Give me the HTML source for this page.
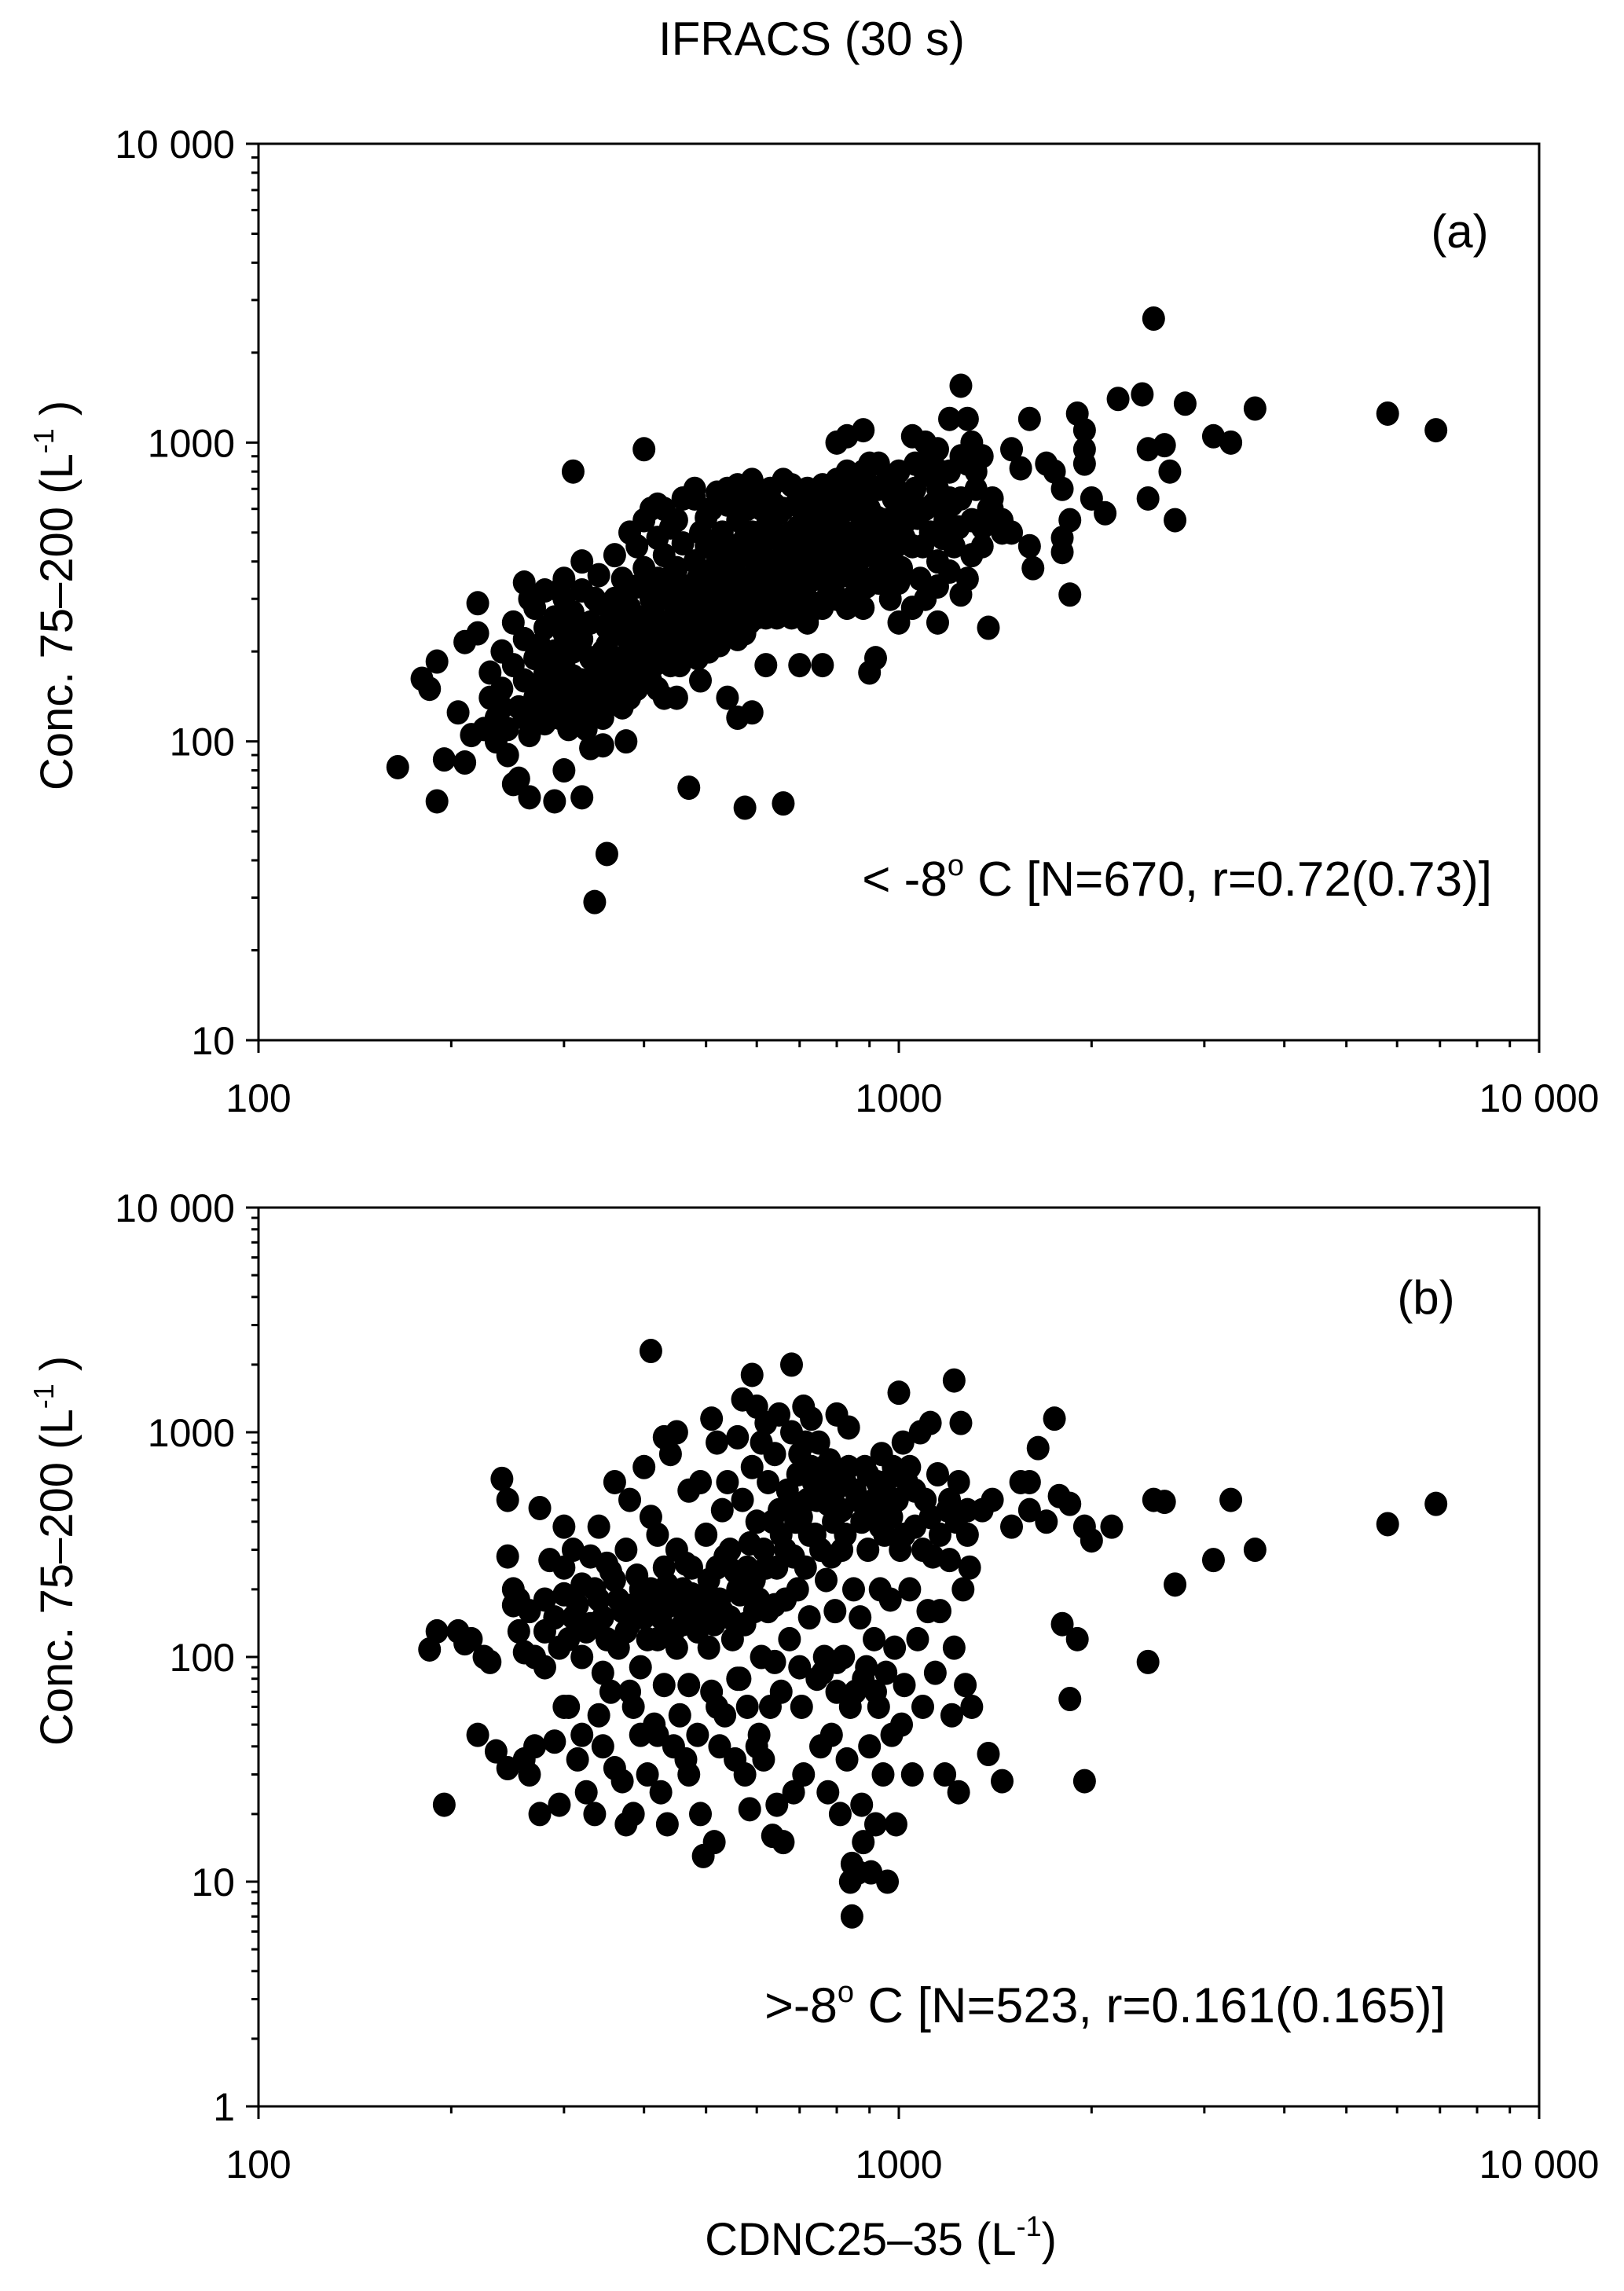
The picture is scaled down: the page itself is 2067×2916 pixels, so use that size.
<!DOCTYPE html>
<html><head><meta charset="utf-8"><style>
html,body{margin:0;padding:0;background:#fff;}
svg{display:block;font-family:"Liberation Sans",Arial,sans-serif;}
</style></head><body>
<svg id="chart" width="2067" height="2916" viewBox="0 0 2067 2916" xmlns="http://www.w3.org/2000/svg">
<rect width="2067" height="2916" fill="#fff"/>
<text x="1033" y="70" font-size="60" text-anchor="middle">IFRACS (30 s)</text>
<g id="panelA"></g>
<g id="panelB"></g>
<text x="1121" y="2870" font-size="58" text-anchor="middle">CDNC25–35 (L<tspan font-size="36" dy="-24">-1</tspan><tspan dy="24">)</tspan></text>
<text transform="translate(92,758) rotate(-90)" font-size="58" text-anchor="middle">Conc.  75–200  (L<tspan font-size="36" dy="-24">-1</tspan><tspan dy="24"> )</tspan></text>
<text transform="translate(92,1974) rotate(-90)" font-size="58" text-anchor="middle">Conc.  75–200  (L<tspan font-size="36" dy="-24">-1</tspan><tspan dy="24"> )</tspan></text>
<text x="1858" y="315" font-size="60" text-anchor="middle">(a)</text>
<text x="1899" y="1140" font-size="62" text-anchor="end">&lt; -8<tspan font-size="38" dy="-26">o</tspan><tspan dy="26"> C [N=670, r=0.72(0.73)]</tspan></text>
<text x="1815" y="1672" font-size="60" text-anchor="middle">(b)</text>
<text x="1840" y="2574" font-size="63" text-anchor="end">&gt;-8<tspan font-size="38" dy="-26">o</tspan><tspan dy="26"> C [N=523, r=0.161(0.165)]</tspan></text>
</svg>
<script>
const xTickLabels = ["100", "1000", "10 000"];
const yTickLabelsA = ["10", "100", "1000", "10 000"];
const yTickLabelsB = ["1", "10", "100", "1000", "10 000"];
const pointsA = [
[165,82],[190,63],[195,87],[185,150],[180,162],[190,185],[205,125],[210,85],[215,105],[210,215],[220,290],[220,230],[225,110],[230,170],[235,100],[240,130],[245,90],[250,72],[255,75],[265,65],[290,63],[300,80],[310,800],[320,65],[330,95],[345,97],[350,42],[335,29],[375,100],[400,950],[410,600],[420,620],[430,140],[450,140],[470,70],[490,160],[540,140],[560,120],[575,60],[590,125],[620,180],[660,62],[700,180],[760,180],[800,1000],[830,1050],[880,1100],[900,170],[920,190],[1000,250],[1050,1050],[1100,1000],[1150,950],[1200,1200],[1250,1550],[1280,1200],[1300,1000],[1350,900],[1380,240],[1400,600],[1450,500],[1500,950],[1550,820],[1600,1200],[1600,450],[1620,380],[1700,850],[1750,800],[1800,700],[1800,480],[1800,430],[1850,550],[1850,310],[1900,1250],[1950,1100],[1950,950],[1950,850],[2000,650],[2100,580],[2200,1400],[2400,1450],[2450,950],[2450,650],[2500,2600],[2600,980],[2650,800],[2700,550],[2800,1350],[3100,1050],[3300,1000],[3600,1300],[5800,1250],[6900,1100],
[240,150],[240,200],[250,180],[250,250],[260,160],[260,220],[260,340],[270,140],[270,190],[270,280],[280,170],[280,240],[280,320],[290,130],[290,200],[290,260],[300,150],[300,180],[300,230],[300,300],[300,350],[310,140],[310,200],[310,270],[320,160],[320,220],[320,320],[320,400],[330,130],[330,190],[330,250],[340,170],[340,290],[340,360],[350,150],[350,210],[350,240],[360,190],[360,300],[360,420],[370,170],[370,250],[370,350],[380,140],[380,210],[380,280],[390,180],[390,330],[390,450],[400,230],[400,260],[400,380],[410,160],[410,300],[420,200],[420,350],[420,480],[430,250],[430,420],[440,180],[440,300],[450,220],[450,380],[450,550],[460,280],[460,460],[470,200],[470,330],[480,250],[480,400],[480,650],[490,300],[490,500],[500,220],[500,360],[500,450],[510,280],[510,600],[520,330],[520,420],[530,250],[530,500],[540,380],[540,700],[550,300],[550,450],[560,220],[560,550],[570,350],[570,650],[580,280],[580,420],[590,500],[590,750],[600,320],[600,380],[610,450],[610,600],[620,260],[620,520],[630,400],[630,700],[640,300],[640,480],[650,350],[650,580],[660,420],[660,750],[670,280],[680,500],[690,380],[690,620],[700,330],[700,450],[710,550],[720,300],[720,700],[730,420],[740,500],[740,350],[750,600],[760,280],[760,450],[770,380],[780,520],[780,700],[790,320],[800,430],[800,600],[820,360],[820,500],[830,800],[840,300],[840,450],[850,600],[860,380],[870,520],[870,700],[880,280],[890,420],[900,600],[900,850],[910,350],[920,480],[930,700],[950,400],[950,550],[970,300],[980,650],[990,450],[1000,800],[1010,380],[1030,550],[1050,450],[1060,700],[1080,350],[1100,600],[1120,500],[1150,400],[1150,700],[1180,550],[1200,800],[1220,450],[1250,650],[1280,350],[1300,550],[1320,700],[1350,450],[1380,600],
[265,300],[275,210],[285,180],[295,320],[315,240],[335,300],[345,200],[355,270],[365,230],[375,310],[385,250],[395,210],[405,340],[415,260],[425,300],[435,350],[445,260],[455,320],[465,240],[475,290],[485,350],[495,260],[505,310],[515,380],[525,290],[535,330],[545,260],[555,400],[565,300],[575,480],[585,350],[595,280],[605,420],[615,350],[625,330],[635,550],[645,400],[655,300],[665,480],[675,400],[685,330],[695,520],[705,400],[715,350],[725,600],[735,470],[745,400],[755,520],[765,350],[775,460],[785,600],[795,380],[810,520],[825,420],[835,600],[845,380],[855,500],[865,450],[885,550],[895,480],[905,420],[925,560],[940,450],[960,500],[985,550],[1020,480],[1040,620],[1070,560],[1090,450],[1130,620],[1170,480],[1210,620],[1240,520],
[230,140],[235,120],[245,110],[255,130],[260,120],[265,105],[270,125],[275,150],[280,115],[285,140],[290,160],[295,120],[300,130],[305,110],[310,165],[315,125],[320,140],[325,110],[330,160],[335,145],[340,130],[345,120],[350,175],[355,140],[360,160],[365,150],[370,130],[375,190],[380,160],[385,210],[390,150],[395,260],[400,170],[405,200],[410,230],[415,180],[420,150],[425,220],[430,190],[440,240],[445,210],[455,180],[465,200],[475,220],[485,190],[495,240],[505,200],[515,230],[525,210],[535,280],[545,230],[555,250],[565,270],[575,230],[585,250],[600,260],[615,280],[630,270],[645,260],[660,280],[680,260],[700,280],[720,250],[745,280],[770,300],[800,300],[830,280],[860,320],[890,330],[930,340],[960,360],[1000,340],
[380,500],[400,550],[430,600],[440,520],[460,650],[480,700],[500,560],[520,680],[540,620],[560,720],[580,600],[600,700],[620,680],[640,620],[660,600],[680,720],[700,650],[720,620],[740,680],[760,720],[780,650],[800,750],[820,680],[850,750],[880,800],[900,720],[930,850],[960,750],[990,700],[1020,650],[1060,850],[1100,780],[1130,900],[1160,800],[1200,650],[1250,900],[1280,850],[1320,800],[1100,300],[1150,330],[1200,370],[1250,310],[1300,420],[1350,520],[1400,650],[1450,550],[1500,500],[1150,250],[1050,280]
];
const pointsB = [
[185,108],[190,130],[195,22],[205,130],[210,115],[215,120],[220,45],[225,100],[230,95],[235,38],[240,620],[245,500],[245,280],[245,32],[250,170],[250,200],[255,130],[260,105],[260,35],[265,30],[270,100],[270,40],[275,460],[275,20],[280,180],[280,90],[285,270],[290,150],[290,42],[295,22],[300,250],[300,380],[305,120],[305,60],[310,300],[310,150],[315,35],[320,210],[320,100],[320,45],[325,25],[330,280],[330,140],[335,20],[340,380],[340,180],[345,85],[345,40],[350,260],[350,120],[355,70],[360,600],[360,220],[360,32],[365,110],[370,160],[370,28],[375,300],[375,18],[380,500],[380,140],[385,60],[385,20],[390,230],[395,90],[395,45],[400,700],[400,150],[405,30],[410,2300],[410,420],[410,200],[415,50],[420,350],[420,120],[425,25],[430,950],[430,250],[430,75],[435,18],[440,800],[440,170],[445,40],[450,1000],[450,300],[450,110],[455,55],[460,200],[460,140],[465,35],[470,550],[470,75],[475,250],[480,150],[485,45],[490,600],[490,20],[495,13],[500,350],[500,180],[505,110],[510,1150],[510,70],[515,15],[520,900],[520,250],[525,40],[530,450],[530,160],[535,55],[540,600],[545,300],[550,120],[555,35],[560,950],[560,200],[565,80],[570,1400],[570,500],[575,30],[580,250],[580,60],[585,21],[590,1800],[590,700],[595,160],[600,1300],[600,400],[605,45],[610,900],[610,100],[615,35],[620,1100],[620,250],[625,600],[630,60],[635,16],[640,800],[640,170],[645,22],[650,1200],[650,450],[655,70],[660,15],[665,300],[670,550],[675,120],[680,2000],[680,1000],[685,25],[690,400],[695,200],[700,800],[705,60],[710,1300],[710,30],[715,250],[720,500],[725,150],[730,1150],[730,700],[740,350],[745,80],[750,900],[755,40],[760,600],[765,100],[770,220],[775,25],[780,750],[785,45],[790,400],[795,160],[800,1200],[800,70],[810,20],[815,300],[820,100],[825,600],[830,35],[835,1050],[840,10],[845,7],[845,12],[850,200],[855,70],[860,500],[865,11],[870,150],[875,22],[880,15],[885,700],[890,90],[895,300],[900,40],[905,11],[910,450],[915,120],[920,18],[925,600],[930,60],[935,200],[940,800],[945,30],[950,350],[955,85],[960,10],[965,500],[970,180],[975,45],[980,700],[985,110],[990,18],[1000,1500],[1005,300],[1010,50],[1015,900],[1020,75],[1030,600],[1040,200],[1050,30],[1060,380],[1070,120],[1080,1000],[1090,60],[1100,500],[1110,160],[1120,1100],[1130,280],[1140,85],[1150,650],[1160,160],[1180,30],[1190,450],[1200,270],[1210,55],[1220,1700],[1220,110],[1230,400],[1240,25],[1250,1100],[1260,200],[1270,75],[1280,450],[1290,250],[1300,60],[1350,450],[1380,37],[1400,500],[1450,28],[1500,380],[1550,600],[1600,600],[1600,450],[1650,850],[1700,400],[1750,1150],[1780,520],[1800,140],[1850,480],[1850,65],[1900,120],[1950,380],[1950,28],[2000,330],[2150,380],[2450,95],[2500,500],[2600,490],[2700,210],[3100,270],[3300,500],[3600,300],[5800,390],[6900,480],
[255,180],[265,160],[280,130],[295,110],[300,190],[315,170],[325,130],[335,200],[345,150],[355,240],[365,180],[375,130],[385,170],[395,200],[405,120],[415,180],[425,150],[435,210],[445,130],[455,170],[465,260],[475,190],[485,130],[495,160],[505,220],[515,140],[525,180],[535,280],[545,150],[555,240],[565,190],[575,140],[585,320],[595,220],[605,180],[615,300],[625,160],[635,400],[645,250],[655,350],[665,180],[675,500],[685,280],[695,650],[705,420],[715,900],[725,350],[735,600],[745,500],[755,300],[765,700],[775,480],[785,280],[795,550],[805,650],[815,450],[825,350],[835,700],[855,550],[875,400],[895,650],[915,500],[935,380],[955,600],[975,420],[995,500],[1020,350],[1040,700],[1060,550],[1090,300],[1120,420],[1160,350],[1200,500],[1240,600],[1280,350],[520,60],[560,80],[600,40],[640,95],[700,90],[760,85],[800,95],[840,60],[880,80],[920,70],[300,60],[340,55],[380,70],[420,45],[470,30]
];
const NS = "http://www.w3.org/2000/svg";
const PL = 329, PR = 1959;
function xScale(v){ return PL + (Math.log10(v) - 2) / 2 * (PR - PL); }
function mkY(top, bottom, dMin, dMax){ return v => bottom - (Math.log10(v) - dMin) / (dMax - dMin) * (bottom - top); }
function el(tag, attrs, parent){ const e = document.createElementNS(NS, tag); for (const k in attrs) e.setAttribute(k, attrs[k]); parent.appendChild(e); return e; }

function drawPanel(g, top, bottom, dMin, dMax, yLabels, pts, xLabY){
  const yS = mkY(top, bottom, dMin, dMax);
  const frame = el('rect', {x:PL, y:top, width:PR-PL, height:bottom-top, fill:'none', stroke:'#000', 'stroke-width':3}, g);
  
  
  for (let d = dMin; d <= dMax; d++){
    const v = Math.pow(10, d);
    const y = yS(v);
    const t = el('line', {x1:PL-16, x2:PL, y1:y, y2:y, stroke:'#000', 'stroke-width':3}, g);
    
    
    const lb = el('text', {x:PL-30, y:y+18, 'font-size':50, 'text-anchor':'end'}, g);
    lb.textContent = yLabels[d - dMin];
    
    
    if (d < dMax){
      for (let m = 2; m <= 9; m++){
        const ym = yS(m * v);
        const mt = el('line', {x1:PL-9, x2:PL, y1:ym, y2:ym, stroke:'#000', 'stroke-width':3}, g);
        
        
      }
    }
  }
  for (let d = 2; d <= 4; d++){
    const v = Math.pow(10, d);
    const x = xScale(v);
    const t = el('line', {x1:x, x2:x, y1:bottom, y2:bottom+16, stroke:'#000', 'stroke-width':3}, g);
    
    
    const lb = el('text', {x:x, y:xLabY, 'font-size':50, 'text-anchor':'middle'}, g);
    lb.textContent = xTickLabels[d - 2];
    
    
    if (d < 4){
      for (let m = 2; m <= 9; m++){
        const xm = xScale(m * v);
        const mt = el('line', {x1:xm, x2:xm, y1:bottom, y2:bottom+9, stroke:'#000', 'stroke-width':3}, g);
        
        
      }
    }
  }
  for (const p of pts){
    const c = el('ellipse', {cx:xScale(p[0]), cy:yS(p[1]), rx:14.5, ry:15.5, fill:'#000'}, g);
    
    
  }
}
drawPanel(document.getElementById('panelA'), 183, 1324, 1, 4, yTickLabelsA, pointsA, 1415);
drawPanel(document.getElementById('panelB'), 1537, 2681, 0, 4, yTickLabelsB, pointsB, 2772);
</script>
</body></html>
